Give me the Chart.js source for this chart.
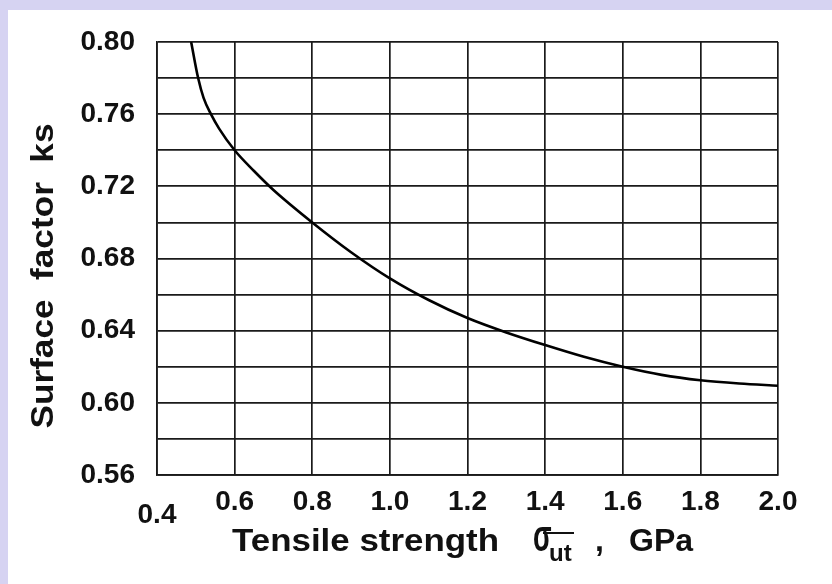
<!DOCTYPE html>
<html>
<head>
<meta charset="utf-8">
<script src="https://cdn.jsdelivr.net/npm/chart.js@4"></script>
<style>
    html, body { margin: 0; padding: 0; }
    body { width: 832px; height: 584px; background: #d6d3f2; position: relative; overflow: hidden; }
    .sheet { position: absolute; left: 8px; top: 10px; right: 0; bottom: 0; background: #fff; }
    #chart { position: absolute; left: 0; top: 0; }
</style>
</head>
<body>
<div class="sheet"></div>
<canvas id="chart" width="832" height="584"></canvas>

<script>
    // curve: tensile strength (GPa) -> surface factor ks
    const strengthGPa = [0.488, 0.506, 0.520, 0.539, 0.560, 0.60, 0.65, 0.70, 0.80, 0.90, 1.00, 1.10, 1.20, 1.30, 1.40, 1.50, 1.60, 1.70, 1.80, 1.90, 2.00];
    const surfaceFactor = [0.800, 0.780, 0.769, 0.760, 0.752, 0.740, 0.7285, 0.718, 0.700, 0.6835, 0.669, 0.657, 0.647, 0.639, 0.632, 0.6255, 0.620, 0.6155, 0.6125, 0.6107, 0.6095];

    const xTicks = [0.4, 0.6, 0.8, 1.0, 1.2, 1.4, 1.6, 1.8, 2.0];
    const yTicks = [0.56, 0.58, 0.60, 0.62, 0.64, 0.66, 0.68, 0.70, 0.72, 0.74, 0.76, 0.78, 0.80];
    const yTitle = 'Surface  factor  ks';
    const xTitle = 'Tensile strength';

    const sans = '"Liberation Sans", Arial, sans-serif';
    const ink = '#111';

    const titles = {
        id: 'titles',
        afterDraw(chart) {
            const ctx = chart.ctx;
            ctx.save();
            ctx.fillStyle = ink;
            ctx.textBaseline = 'alphabetic';

            // y title, rotated and a little stretched along its length
            ctx.save();
            ctx.translate(53, 276);
            ctx.rotate(-Math.PI / 2);
            ctx.font = 'bold 32px ' + sans;
            ctx.textAlign = 'center';
            const wy = ctx.measureText(yTitle).width;
            ctx.scale(305 / wy, 1);
            ctx.fillText(yTitle, 0, 0);
            ctx.restore();

            // x title with sigma_ut
            ctx.font = 'bold 32px ' + sans;
            ctx.textAlign = 'left';
            const w = ctx.measureText(xTitle).width;
            ctx.save();
            ctx.translate(232, 551);
            ctx.scale(267 / w, 1);
            ctx.fillText(xTitle, 0, 0);
            ctx.restore();

            ctx.save();
            ctx.translate(533, 551);
            ctx.scale(0.85, 1.4);
            ctx.fillText('\u03c3', 0, 0);
            ctx.restore();
            ctx.font = 'bold 24px ' + sans;
            ctx.fillText('ut', 549, 561);
            ctx.strokeStyle = ink;
            ctx.lineWidth = 2;
            ctx.beginPath();
            ctx.moveTo(543, 533);
            ctx.lineTo(574, 533);
            ctx.stroke();
            ctx.font = 'bold 32px ' + sans;
            ctx.fillText(',', 595, 551);
            ctx.fillText('GPa', 629, 551);
            ctx.restore();
        }
    };

    const chart = new Chart(document.getElementById('chart'), {
        type: 'line',
        data: {
            datasets: [{
                data: strengthGPa.map((x, i) => ({ x: x, y: surfaceFactor[i] })),
                borderColor: '#000',
                borderWidth: 2.6,
                pointRadius: 0,
                fill: false,
                cubicInterpolationMode: 'monotone'
            }]
        },
        options: {
            responsive: false,
            animation: false,
            layout: { padding: { left: 0, top: 42, right: 54, bottom: 0 } },
            plugins: { legend: { display: false }, tooltip: { enabled: false } },
            scales: {
                x: {
                    type: 'linear',
                    min: 0.4,
                    max: 2.0,
                    afterBuildTicks: (scale) => { scale.ticks = xTicks.map(v => ({ value: v })); },
                    afterFit: (scale) => { scale.height = 109; },
                    ticks: {
                        color: ink,
                        padding: 10,
                        maxRotation: 0,
                        autoSkip: false,
                        font: (ctx) => ctx.index === 0
                            ? { family: sans, size: 28, weight: 'bold', lineHeight: 0.72 }
                            : { family: sans, size: 28, weight: 'bold' },
                        callback: (v, i) => i === 0 ? ['', v.toFixed(1)] : v.toFixed(1)
                    },
                    grid: { color: '#1a1a1a', lineWidth: 1.7, drawTicks: false },
                    border: { display: true, color: '#1a1a1a', width: 1.7 }
                },
                y: {
                    type: 'linear',
                    min: 0.56,
                    max: 0.80,
                    afterBuildTicks: (scale) => { scale.ticks = yTicks.map(v => ({ value: v })); },
                    afterFit: (scale) => { scale.width = 157; },
                    ticks: {
                        color: ink,
                        padding: 22,
                        autoSkip: false,
                        font: { family: sans, size: 28, weight: 'bold' },
                        callback: (v) => Math.round(v * 100) % 4 === 0 ? v.toFixed(2) : ''
                    },
                    grid: { color: '#1a1a1a', lineWidth: 1.7, drawTicks: false },
                    border: { display: true, color: '#1a1a1a', width: 1.7 }
                }
            }
        },
        plugins: [titles]
    });
</script>
</body>
</html>
